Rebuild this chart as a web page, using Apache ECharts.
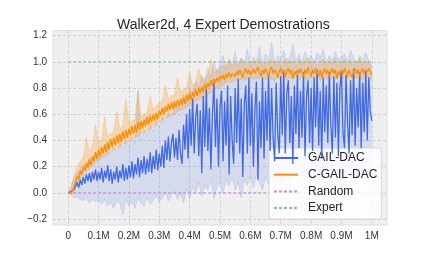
<!DOCTYPE html>
<html><head><meta charset="utf-8">
<script src="https://cdn.jsdelivr.net/npm/echarts@6/dist/echarts.min.js"></script>
<style>html,body{margin:0;padding:0;background:#fff}#c{width:430px;height:258px}</style>
</head><body><div id="c"></div>
<script>
// ---- data ----
var titleText = "Walker2d, 4 Expert Demostrations";
var seriesNames = ["GAIL-DAC", "C-GAIL-DAC", "Random", "Expert"];
var xTicks = [0, 100000, 200000, 300000, 400000, 500000, 600000, 700000, 800000, 900000, 1000000];
var xTickLabels = ["0", "0.1M", "0.2M", "0.3M", "0.4M", "0.5M", "0.6M", "0.7M", "0.8M", "0.9M", "1M"];
var yTicks = [-0.2, 0, 0.2, 0.4, 0.6, 0.8, 1.0, 1.2];
var yTickLabels = ["\u22120.2", "0.0", "0.2", "0.4", "0.6", "0.8", "1.0", "1.2"];
var meanStep = 5000;   // steps between mean points
var bandStep = 10000;  // steps between band points

var gailMean = [
0.00,0.00,0.01,0.00,0.03,0.05,0.08,0.04,0.10,0.06,0.12,
0.07,0.14,0.09,0.15,0.08,0.16,0.10,0.18,0.09,0.16,
0.10,0.19,0.08,0.17,0.11,0.21,0.09,0.18,0.07,0.16,
0.10,0.20,0.08,0.17,0.11,0.22,0.09,0.19,0.10,0.21,
0.12,0.24,0.11,0.22,0.14,0.27,0.12,0.25,0.15,0.28,
0.14,0.26,0.16,0.31,0.15,0.28,0.18,0.33,0.17,0.30,
0.20,0.36,0.19,0.40,0.25,0.43,0.24,0.38,0.45,0.27,
0.42,0.25,0.48,0.30,0.22,0.52,0.33,0.60,0.26,0.64,
0.36,0.72,0.30,0.58,0.68,0.28,0.63,0.15,0.74,0.35,
0.80,0.32,0.65,0.18,0.60,0.84,0.35,0.72,0.20,0.66,
0.78,0.24,0.70,0.36,0.82,0.14,0.74,0.40,0.22,0.80,
0.38,0.87,0.30,0.72,0.12,0.68,0.82,0.30,0.88,0.36,
0.76,0.20,0.64,0.85,0.10,0.70,0.34,0.88,0.26,0.78,
0.40,0.91,0.32,0.80,0.42,0.24,0.84,0.46,0.30,0.89,
0.44,0.93,0.30,0.76,0.86,0.38,0.74,0.22,0.82,0.45,
0.90,0.34,0.78,0.42,0.92,0.28,0.74,0.86,0.38,0.80,
0.32,0.88,0.50,0.94,0.36,0.78,0.26,0.88,0.46,0.82,
0.38,0.92,0.52,0.30,0.89,0.42,0.84,0.28,0.80,0.93,
0.46,0.34,0.90,0.55,0.30,0.86,0.44,0.95,0.36,0.80,
0.50,0.92,0.34,0.84,0.46,0.93,0.40,0.88,0.62,0.55];

var cgailMean = [
0.00,0.00,0.00,0.02,0.05,0.09,0.13,0.10,0.17,0.14,0.20,
0.17,0.23,0.19,0.26,0.21,0.28,0.24,0.31,0.26,0.33,
0.28,0.35,0.30,0.37,0.31,0.39,0.33,0.41,0.35,0.42,
0.36,0.44,0.38,0.45,0.39,0.47,0.41,0.48,0.42,0.49,
0.44,0.51,0.45,0.52,0.46,0.54,0.48,0.55,0.49,0.56,
0.51,0.58,0.52,0.59,0.54,0.60,0.55,0.61,0.56,0.63,
0.59,0.65,0.60,0.66,0.62,0.68,0.63,0.69,0.64,0.70,
0.65,0.71,0.66,0.72,0.67,0.73,0.68,0.75,0.70,0.76,
0.71,0.77,0.73,0.79,0.74,0.80,0.76,0.81,0.77,0.83,
0.79,0.84,0.81,0.86,0.82,0.87,0.84,0.88,0.85,0.89,
0.87,0.90,0.86,0.91,0.88,0.92,0.88,0.91,0.92,0.89,
0.93,0.90,0.94,0.91,0.88,0.93,0.95,0.91,0.94,0.90,
0.92,0.95,0.91,0.94,0.96,0.92,0.89,0.94,0.91,0.95,
0.92,0.89,0.94,0.96,0.91,0.94,0.92,0.88,0.93,0.95,
0.91,0.94,0.89,0.93,0.95,0.91,0.94,0.87,0.93,0.90,
0.94,0.91,0.95,0.92,0.89,0.94,0.91,0.96,0.92,0.89,
0.94,0.91,0.95,0.92,0.89,0.94,0.88,0.93,0.95,0.91,
0.94,0.89,0.93,0.95,0.91,0.94,0.87,0.93,0.90,0.94,
0.91,0.95,0.92,0.89,0.94,0.91,0.88,0.93,0.95,0.91,
0.94,0.89,0.93,0.95,0.91,0.94,0.92,0.95,0.93,0.90];

var gailLow = [
0.00,-0.02,-0.04,-0.03,-0.05,-0.06,-0.04,-0.08,-0.05,-0.07,-0.06,
-0.09,-0.05,-0.10,-0.07,-0.12,-0.06,-0.08,-0.17,-0.05,-0.10,
-0.07,-0.12,-0.04,-0.08,-0.10,-0.03,-0.09,-0.06,-0.02,-0.07,
-0.04,0.00,-0.06,-0.02,0.02,-0.05,0.00,-0.08,0.03,-0.04,
0.05,0.00,0.08,-0.03,0.06,0.02,0.10,-0.05,0.04,0.08,
0.00,0.10,0.05,0.12,0.02,0.08,-0.04,0.10,0.06,0.12,
0.04,0.14,0.08,0.02,0.12,0.06,0.15,0.00,0.10,0.13,
0.08,0.16,0.05,0.12,0.18,0.07,0.14,0.03,0.11,0.16,
0.09,0.15,0.06,0.13,0.19,0.08,0.14,0.10,0.17,0.05,
0.12,0.18,0.09,0.15,0.07,0.13,0.20,0.10,0.16,0.12];

var gailHigh = [
0.00,0.06,0.12,0.15,0.18,0.22,0.20,0.25,0.23,0.28,0.26,
0.30,0.27,0.33,0.29,0.35,0.31,0.38,0.34,0.40,0.36,
0.42,0.38,0.78,0.40,0.48,0.44,0.52,0.47,0.55,0.50,
0.58,0.54,0.62,0.57,0.66,0.70,0.64,0.75,0.68,0.80,
0.76,0.85,0.80,0.90,0.84,0.95,0.88,1.00,0.92,0.98,
1.05,0.94,1.02,0.97,1.08,0.96,1.03,0.99,1.10,0.98,
1.04,1.00,1.12,0.98,1.06,1.01,1.15,0.99,1.05,1.02,
1.09,0.98,1.04,1.13,1.00,1.06,0.99,1.08,1.02,1.05,
1.00,1.07,1.03,1.10,0.99,1.05,1.01,1.08,1.02,1.04,
1.06,1.00,1.09,1.03,0.99,1.05,1.02,1.07,1.01,0.98];

var cgailLow = [
0.00,-0.01,0.01,0.06,0.10,0.13,0.16,0.18,0.21,0.23,0.25,
0.26,0.28,0.29,0.31,0.33,0.34,0.35,0.37,0.38,0.39,
0.41,0.42,0.43,0.45,0.46,0.47,0.49,0.50,0.52,0.54,
0.55,0.57,0.58,0.59,0.60,0.62,0.63,0.64,0.65,0.67,
0.68,0.69,0.71,0.72,0.73,0.75,0.77,0.78,0.80,0.81,
0.82,0.84,0.85,0.84,0.86,0.85,0.87,0.86,0.87,0.88,
0.86,0.88,0.87,0.89,0.86,0.88,0.87,0.85,0.88,0.87,
0.89,0.86,0.88,0.87,0.89,0.86,0.88,0.87,0.86,0.88,
0.87,0.89,0.86,0.88,0.87,0.85,0.88,0.87,0.89,0.86,
0.88,0.87,0.89,0.86,0.88,0.87,0.86,0.88,0.87,0.86];

var cgailHigh = [
0.00,0.04,0.14,0.20,0.24,0.27,0.42,0.32,0.36,0.52,0.39,
0.40,0.58,0.43,0.45,0.47,0.62,0.49,0.51,0.72,0.53,
0.55,0.56,0.78,0.58,0.60,0.61,0.74,0.63,0.66,0.69,
0.70,0.82,0.72,0.74,0.75,0.88,0.77,0.79,0.80,0.92,
0.82,0.84,0.95,0.86,0.88,0.90,1.02,0.92,0.94,0.95,
0.97,0.98,1.02,0.97,0.99,0.98,1.03,0.98,1.00,0.97,
1.01,0.98,1.03,0.97,1.00,0.99,1.02,0.98,1.01,0.97,
1.00,1.03,0.98,1.01,0.97,1.02,0.99,1.00,1.03,0.98,
1.01,0.97,1.00,1.02,0.98,1.01,0.99,1.03,0.97,1.00,
1.02,0.98,1.01,0.97,1.00,1.03,0.98,1.01,0.99,0.97];

var randomX = [0, 1000000];
var randomY = [0.0, 0.0];
var expertX = [0, 1000000];
var expertY = [1.0, 1.0];

// ---- build ----
function pairs(arr, step) { return arr.map(function (v, i) { return [i * step, v]; }); }
function xy(xs, ys) { return xs.map(function (x, i) { return [x, ys[i]]; }); }
function bandData(lo, hi, step) { return lo.map(function (v, i) { return [i * step, v, hi[i]]; }); }

var BLUE = '#4169E1', ORANGE = '#FF8C00';
var FONT = 'Liberation Sans, Arial, sans-serif';

function bandSeries(name, lo, hi, color, fill, edgeOp) {
  var d = bandData(lo, hi, bandStep);
  return {
    type: 'custom', name: name, data: d, encode: { x: 0, y: [1, 2] }, clip: true, silent: true, z: 1,
    renderItem: function (params, api) {
      if (params.dataIndex !== 0) return null;
      var top = [], bot = [];
      for (var i = 0; i < d.length; i++) {
        top.push(api.coord([d[i][0], d[i][2]]));
        bot.push(api.coord([d[i][0], d[i][1]]));
      }
      var poly = top.concat(bot.slice().reverse());
      return { type: 'group', children: [
        { type: 'polygon', shape: { points: poly }, style: { fill: fill, stroke: null } },
        { type: 'polyline', shape: { points: top }, style: { fill: null, stroke: color, lineWidth: 0.6, opacity: edgeOp } },
        { type: 'polyline', shape: { points: bot }, style: { fill: null, stroke: color, lineWidth: 0.6, opacity: edgeOp } }
      ] };
    }
  };
}

var series = [];
series.push(bandSeries('gband', gailLow, gailHigh, BLUE, 'rgba(65,105,225,0.15)', 0.25));
series.push(bandSeries('cband', cgailLow, cgailHigh, ORANGE, 'rgba(255,140,0,0.25)', 0.35));
series.push({ type: 'line', name: seriesNames[2], data: xy(randomX, randomY), symbol: 'none',
  itemStyle: { color: '#C88AD8' }, lineStyle: { color: '#C88AD8', width: 1, type: [3, 2] }, z: 3 });
series.push({ type: 'line', name: seriesNames[3], data: xy(expertX, expertY), symbol: 'none',
  itemStyle: { color: '#86C386' }, lineStyle: { color: '#86C386', width: 1, type: [3, 2] }, z: 3 });
series.push({ type: 'line', name: seriesNames[0], data: pairs(gailMean, meanStep), symbol: 'none',
  itemStyle: { color: BLUE }, lineStyle: { color: BLUE, width: 1.3 }, z: 4 });
series.push({ type: 'line', name: seriesNames[1], data: pairs(cgailMean, meanStep), symbol: 'none',
  itemStyle: { color: ORANGE }, lineStyle: { color: ORANGE, width: 1.3 }, z: 5 });

var chart = echarts.init(document.getElementById('c'), null, { renderer: 'canvas' });
chart.setOption({
  animation: false,
  backgroundColor: '#ffffff',
  title: { text: titleText, left: 112, top: 13,
    textStyle: { fontFamily: FONT, fontSize: 14, fontWeight: 'normal', color: '#262626' } },
  grid: { left: 53, right: 43, top: 30.5, bottom: 33, show: true,
    backgroundColor: '#EFEFEF', borderColor: '#DCDCDC', borderWidth: 1 },
  legend: {
    data: [seriesNames[0], seriesNames[1], seriesNames[2], seriesNames[3]],
    orient: 'vertical', left: 269, top: 148,
    itemWidth: 24, itemHeight: 12, itemGap: 4.7,
    padding: [4, 4, 5, 4],
    itemStyle: { opacity: 0, borderWidth: 0 },
    backgroundColor: 'rgba(255,255,255,0.85)', borderColor: '#D6D6D6', borderWidth: 1, borderRadius: 3,
    textStyle: { fontFamily: FONT, fontSize: 12, color: '#262626', padding: [0, 0, 0, 5] }
  },
  xAxis: {
    type: 'value', min: -50000, max: 1050000,
    axisLine: { show: false },
    axisTick: { show: false, customValues: xTicks },
    axisLabel: { customValues: xTicks, margin: 6, fontFamily: FONT, fontSize: 10, color: '#333',
      formatter: function (v) { var i = xTicks.indexOf(v); return i >= 0 ? xTickLabels[i] : ''; } },
    splitLine: { show: true, lineStyle: { color: '#C8C8C8', width: 0.8, type: [3, 2] } }
  },
  yAxis: {
    type: 'value', min: -0.246, max: 1.24,
    axisLine: { show: false },
    axisTick: { show: false, customValues: yTicks },
    axisLabel: { customValues: yTicks, margin: 6, fontFamily: FONT, fontSize: 10, color: '#333',
      formatter: function (v) {
        for (var i = 0; i < yTicks.length; i++) { if (Math.abs(yTicks[i] - v) < 1e-6) return yTickLabels[i]; }
        return '';
      } },
    splitLine: { show: true, lineStyle: { color: '#C8C8C8', width: 0.8, type: [3, 2] } }
  },
  series: series
});
</script>
</body></html>
